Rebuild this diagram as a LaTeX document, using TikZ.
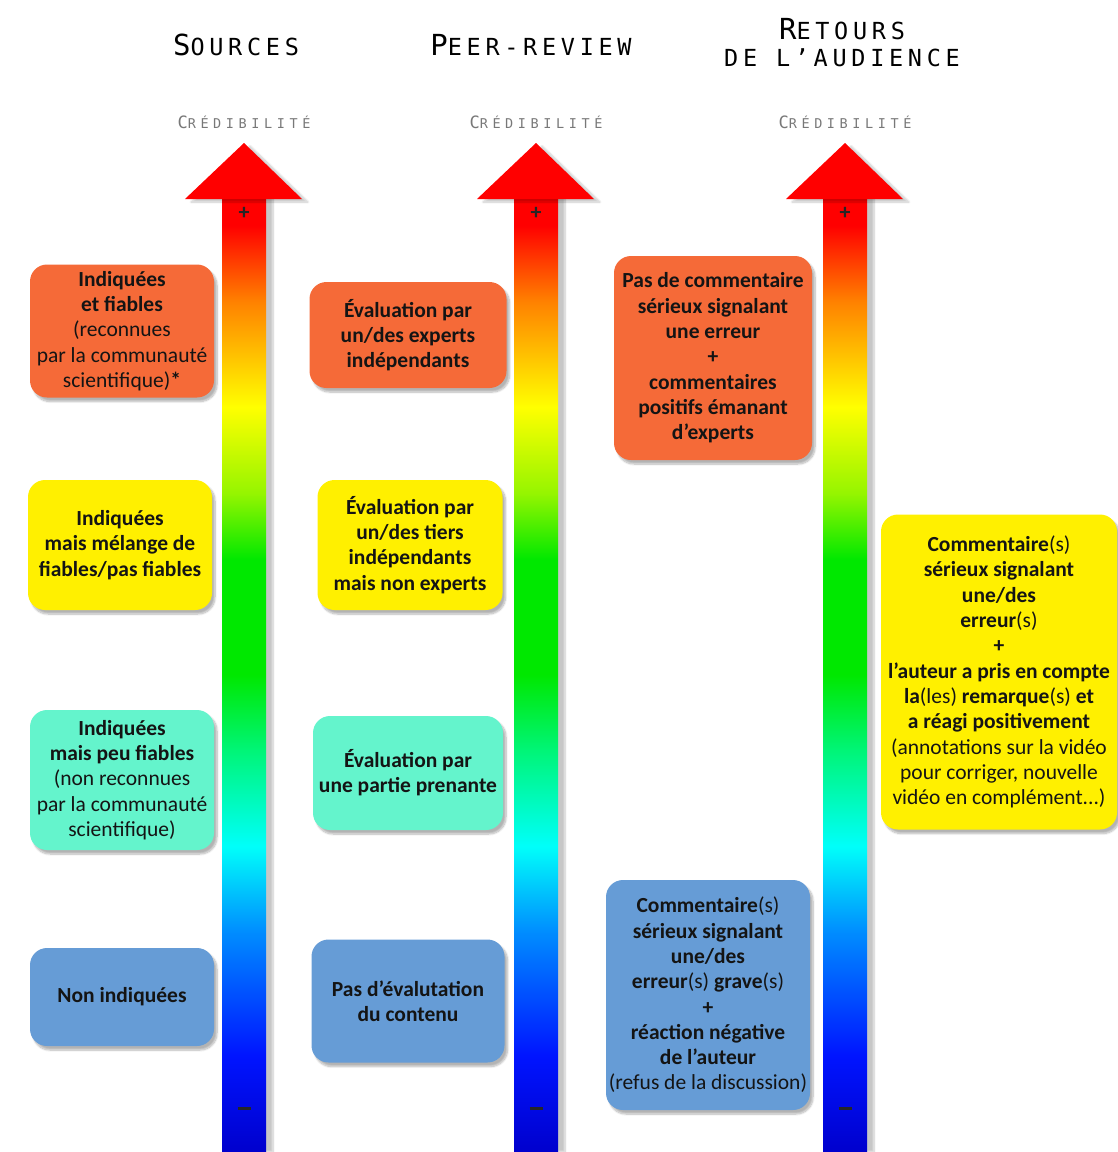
\documentclass[tikz,border=0pt]{standalone}
\usepackage{fontspec}
\setmainfont{Carlito}
\newfontfamily\hdrbig[LetterSpace=20]{DejaVu Sans Mono}
\newfontfamily\hdrsmall[LetterSpace=34]{DejaVu Sans Mono}
\usetikzlibrary{shadows,shadows.blur}
\definecolor{dblue}{RGB}{0,0,205}
\definecolor{pblue}{RGB}{0,20,255}
\definecolor{mblue}{RGB}{0,140,255}
\definecolor{cyan1}{RGB}{0,255,250}
\definecolor{gc}{RGB}{0,245,120}
\definecolor{grn}{RGB}{0,232,0}
\definecolor{yg}{RGB}{150,245,0}
\definecolor{yel}{RGB}{255,255,0}
\definecolor{org}{RGB}{255,130,0}
\definecolor{red1}{RGB}{255,0,0}
\definecolor{boxorange}{RGB}{245,106,56}
\definecolor{boxyellow}{RGB}{255,240,0}
\definecolor{boxaqua}{RGB}{100,244,204}
\definecolor{boxblue}{RGB}{102,156,214}
\definecolor{txt}{RGB}{20,20,20}
\definecolor{credgray}{RGB}{120,120,120}
\pgfdeclareverticalshading{rainbow}{100bp}{color(0bp)=(dblue); color(25bp)=(dblue); color(30bp)=(pblue); color(36.5bp)=(mblue); color(41bp)=(cyan1); color(46bp)=(gc); color(50bp)=(grn); color(56bp)=(grn); color(59.5bp)=(yg); color(64bp)=(yel); color(69.5bp)=(org); color(73.5bp)=(red1); color(100bp)=(red1)}
\newcommand{\hdr}[2]{{\fontsize{29}{30}\selectfont #1}{\fontsize{23.5}{30}\selectfont #2}}
\newcommand{\cred}{{\fontsize{17}{18}\selectfont C}{\fontsize{13.5}{18}\selectfont RÉDIBILITÉ}}
\newcommand{\rg}[1]{{\mdseries #1}}
\tikzset{
  box/.style={rounded corners=17pt, align=center, text=txt, inner sep=0pt,
    font=\fontsize{21.5}{25.3}\selectfont\bfseries,
    blur shadow={shadow xshift=3pt, shadow yshift=-4pt, shadow blur steps=8, shadow opacity=30}},
  title/.style={font=\hdrbig, text=black, align=center, inner sep=0pt},
  credlab/.style={font=\hdrsmall, text=credgray, inner sep=0pt},
  sign/.style={font=\bfseries\fontsize{22}{22}\selectfont, text=black!85, inner sep=0pt},
  arrowshaft/.style={shading=rainbow, blur shadow={shadow xshift=7pt, shadow yshift=0pt, shadow blur steps=10, shadow opacity=22}},
  arrowhead/.style={fill=red1, blur shadow={shadow xshift=6pt, shadow yshift=-3pt, shadow blur steps=10, shadow opacity=22}}
}
\begin{document}
\begin{tikzpicture}[x=1pt,y=-1pt]
\useasboundingbox (0,0) rectangle (1118,1152);
% titles
\node[title] (tS) at (236,45) {\hdr{S}{OURCES}};
\node[title] (tP) at (531,45) {\hdr{P}{EER-REVIEW}};
\node[title] (tA1) at (842,29) {\hdr{R}{ETOURS}};
\node[title] (tA2) at (842,58) {{\fontsize{23.5}{30}\selectfont DE L’AUDIENCE}};
\node[credlab] (cS) at (244,122) {\cred};
\node[credlab] (cP) at (536,122) {\cred};
\node[credlab] (cA) at (845,122) {\cred};
% arrows
\foreach \cx/\nm in {244/S,536/P,845/A}{
  \path[arrowshaft] (\cx-22,197) rectangle (\cx+22,1152);
  \path[arrowhead] (\cx-59,199) -- (\cx,143) -- (\cx+58,199) -- cycle;
  \node[sign] (plus\nm) at (\cx,213) {+};
  \node[sign] (minus\nm) at (\cx,1110) {\rule[3pt]{13pt}{3.5pt}};
}
% Sources boxes
\node[box, fill=boxorange, minimum width=184, minimum height=133] (s1) at (122,331)
  {Indiquées\\et fiables\\\rg{(reconnues}\\\rg{par la communauté}\\\rg{scientifique)}*};
\node[box, fill=boxyellow, minimum width=184, minimum height=130] (s2) at (120,545)
  {Indiquées\\mais mélange de\\fiables/pas fiables};
\node[box, fill=boxaqua, minimum width=184, minimum height=140] (s3) at (122,780)
  {Indiquées\\mais peu fiables\\\rg{(non reconnues}\\\rg{par la communauté}\\\rg{scientifique)}};
\node[box, fill=boxblue, minimum width=184, minimum height=98] (s4) at (122,997)
  {Non indiquées};
% Peer-review boxes
\node[box, fill=boxorange, minimum width=197, minimum height=106] (p1) at (408,335)
  {Évaluation par\\un/des experts\\indépendants};
\node[box, fill=boxyellow, minimum width=185, minimum height=130] (p2) at (410,545)
  {Évaluation par\\un/des tiers\\indépendants\\mais non experts};
\node[box, fill=boxaqua, minimum width=190, minimum height=114] (p3) at (408,773)
  {Évaluation par\\une partie prenante};
\node[box, fill=boxblue, minimum width=193, minimum height=123] (p4) at (408,1001)
  {Pas d’évalutation\\du contenu};
% Audience boxes
\node[box, fill=boxorange, minimum width=198, minimum height=204] (a1) at (713,358)
  {Pas de commentaire\\sérieux signalant\\une erreur\\+\\commentaires\\positifs émanant\\d’experts};
\node[box, fill=boxyellow, minimum width=236, minimum height=315] (a2) at (999,672)
  {Commentaire\rg{(s)}\\sérieux signalant\\une/des\\erreur\rg{(s)}\\+\\l’auteur a pris en compte\\la\rg{(les)} remarque\rg{(s)} et\\a réagi positivement\\\rg{(annotations sur la vidéo}\\\rg{pour corriger, nouvelle}\\\rg{vidéo en complément...)}};
\node[box, fill=boxblue, minimum width=204, minimum height=230] (a3) at (708,995)
  {Commentaire\rg{(s)}\\sérieux signalant\\une/des\\erreur\rg{(s)} grave\rg{(s)}\\+\\réaction négative\\de l’auteur\\\rg{(refus de la discussion)}};
\end{tikzpicture}
\end{document}
